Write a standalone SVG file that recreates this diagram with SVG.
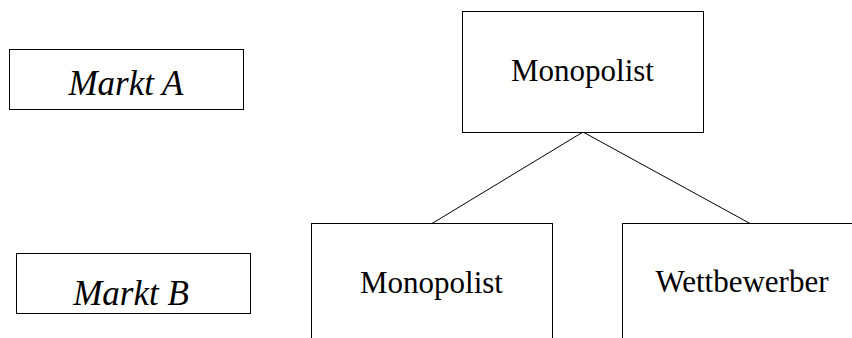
<svg xmlns="http://www.w3.org/2000/svg" width="852" height="338" viewBox="0 0 852 338">
<style>
.box{fill:#fff;stroke:#000;stroke-width:1}
.t{font-family:"Liberation Serif","Tinos","DejaVu Serif","Noto Serif",serif;fill:#000;text-anchor:middle}
.i{font-style:italic;font-size:35px}
.n{font-size:31px}
.c{stroke:#000;stroke-width:1;fill:none}
</style>
<rect width="852" height="338" fill="#fff"/>
<g id="marktA"><rect class="box" x="9.5" y="49.5" width="234" height="60"/><text class="t i" x="126" y="95">Markt A</text></g>
<g id="marktB"><rect class="box" x="16.5" y="253.5" width="234" height="60"/><text class="t i" x="131" y="305">Markt B</text></g>
<g id="connectors"><line class="c" x1="583" y1="132" x2="432" y2="223.5"/><line class="c" x1="583" y1="132" x2="750" y2="223.5"/></g>
<g id="monopolistTop"><rect class="box" x="462.5" y="11.5" width="241" height="121"/><text class="t n" x="582.5" y="81">Monopolist</text></g>
<g id="monopolistB"><rect class="box" x="311.5" y="223.5" width="241" height="140"/><text class="t n" x="431.5" y="293">Monopolist</text></g>
<g id="wettbewerber"><rect class="box" x="622.5" y="223.5" width="241" height="140"/><text class="t n" x="742" y="292">Wettbewerber</text></g>
</svg>
